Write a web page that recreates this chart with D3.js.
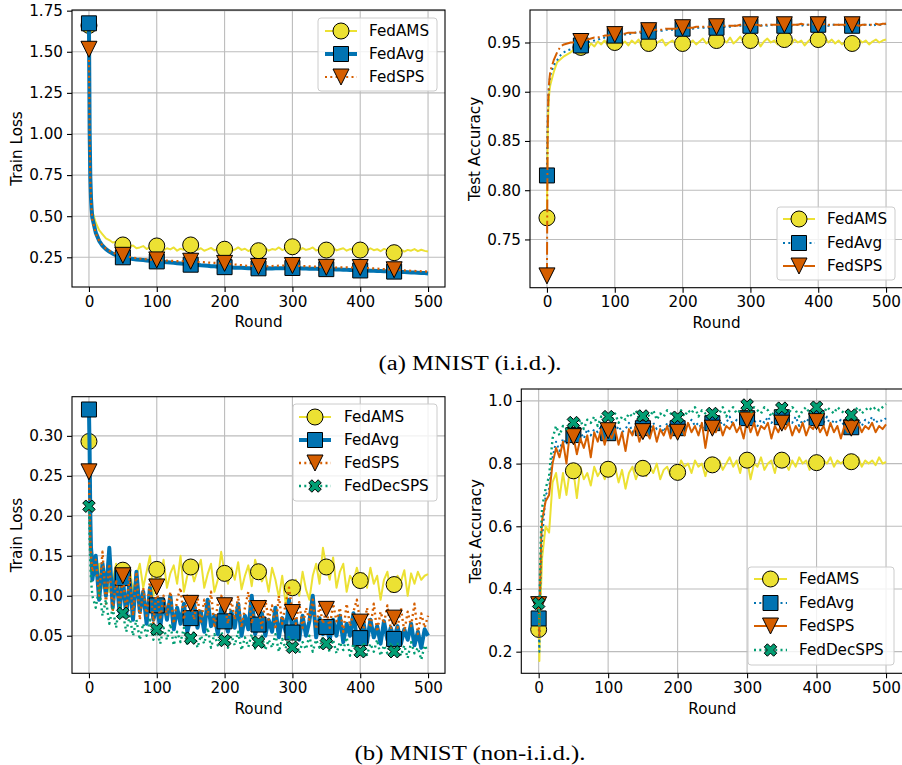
<!DOCTYPE html>
<html>
<head>
<meta charset="utf-8">
<script src="https://cdn.jsdelivr.net/npm/d3@7"></script>
<style>
  body { margin: 0; background: #fff; }
  text { font-family: "DejaVu Sans", sans-serif; }
</style>
</head>
<body>
<svg id="fig" width="902" height="765"></svg>
<script>
var rounds = [0, 1, 2, 3, 4].concat(d3.range(5, 501, 5));
var xTicks = [0, 100, 200, 300, 400, 500];

var colAMS = "#ECE133", colAvg = "#0173B2", colSPS = "#D55E00", colDec = "#029E73";

// (a) MNIST iid - train loss
var lossIidAMS = [1.66, 1.05, 0.78, 0.65, 0.57,
  0.53, 0.46, 0.415, 0.39, 0.365, 0.355, 0.34, 0.345, 0.33, 0.325,
  0.33, 0.315, 0.322, 0.305, 0.31, 0.318, 0.30, 0.312, 0.305, 0.319,
  0.30, 0.292, 0.305, 0.298, 0.31, 0.29, 0.302, 0.296, 0.308, 0.325,
  0.30, 0.295, 0.305, 0.29, 0.298, 0.307, 0.292, 0.30, 0.294, 0.299,
  0.305, 0.29, 0.297, 0.31, 0.295, 0.302, 0.288, 0.30, 0.293, 0.29,
  0.298, 0.306, 0.29, 0.30, 0.296, 0.31, 0.294, 0.303, 0.298, 0.314,
  0.30, 0.292, 0.306, 0.295, 0.30, 0.31, 0.291, 0.298, 0.303, 0.294,
  0.30, 0.308, 0.292, 0.299, 0.305, 0.29, 0.30, 0.296, 0.302, 0.294,
  0.298, 0.29, 0.305, 0.293, 0.299, 0.287, 0.301, 0.294, 0.29, 0.278,
  0.292, 0.298, 0.285, 0.295, 0.29, 0.30, 0.287, 0.296, 0.289, 0.285];
var lossIidAvg = [1.673, 1.02, 0.74, 0.61, 0.54,
  0.49, 0.40, 0.35, 0.32, 0.30, 0.285, 0.272, 0.263, 0.256, 0.25,
  0.247, 0.243, 0.24, 0.237, 0.235, 0.233, 0.231, 0.229, 0.227, 0.225,
  0.223, 0.222, 0.22, 0.218, 0.216, 0.214, 0.212, 0.21, 0.208, 0.205,
  0.205, 0.203, 0.201, 0.2, 0.198, 0.196, 0.195, 0.193, 0.192, 0.19,
  0.189, 0.188, 0.187, 0.186, 0.186, 0.185, 0.184, 0.184, 0.183, 0.183,
  0.183, 0.182, 0.183, 0.182, 0.184, 0.183, 0.184, 0.185, 0.184, 0.185,
  0.184, 0.183, 0.182, 0.182, 0.181, 0.18, 0.18, 0.179, 0.179, 0.178,
  0.177, 0.177, 0.176, 0.175, 0.174, 0.174, 0.173, 0.172, 0.171, 0.17,
  0.17, 0.169, 0.168, 0.168, 0.167, 0.166, 0.165, 0.165, 0.164, 0.163,
  0.162, 0.161, 0.16, 0.159, 0.158, 0.157, 0.156, 0.155, 0.154, 0.152];
var lossIidSPS = [1.515, 0.98, 0.72, 0.60, 0.53,
  0.48, 0.395, 0.35, 0.322, 0.303, 0.29, 0.278, 0.27, 0.264, 0.262,
  0.256, 0.252, 0.248, 0.245, 0.242, 0.24, 0.238, 0.236, 0.234, 0.234,
  0.232, 0.231, 0.23, 0.229, 0.228, 0.227, 0.227, 0.226, 0.226, 0.226,
  0.224, 0.222, 0.221, 0.22, 0.218, 0.217, 0.216, 0.215, 0.214, 0.213,
  0.211, 0.208, 0.206, 0.204, 0.202, 0.2, 0.198, 0.197, 0.195, 0.194,
  0.194, 0.195, 0.196, 0.197, 0.198, 0.199, 0.2, 0.2, 0.201, 0.2,
  0.199, 0.198, 0.197, 0.196, 0.195, 0.194, 0.193, 0.192, 0.19, 0.189,
  0.188, 0.188, 0.188, 0.189, 0.189, 0.189, 0.188, 0.188, 0.188, 0.188,
  0.186, 0.185, 0.183, 0.182, 0.181, 0.179, 0.178, 0.177, 0.175, 0.174,
  0.172, 0.171, 0.17, 0.169, 0.168, 0.167, 0.166, 0.165, 0.164, 0.162];

// (a) MNIST iid - test accuracy
var accIidAMS = [0.772, 0.85, 0.88, 0.895, 0.903,
  0.907, 0.92, 0.93, 0.933, 0.936, 0.938, 0.94, 0.943, 0.946, 0.945,
  0.947, 0.944, 0.949, 0.946, 0.951, 0.948, 0.952, 0.947, 0.95, 0.95,
  0.953, 0.948, 0.951, 0.947, 0.952, 0.949, 0.953, 0.946, 0.951, 0.949,
  0.952, 0.948, 0.951, 0.953, 0.947, 0.95, 0.952, 0.948, 0.951, 0.949,
  0.953, 0.949, 0.952, 0.948, 0.951, 0.954, 0.949, 0.952, 0.95, 0.952,
  0.948, 0.953, 0.95, 0.955, 0.949, 0.952, 0.956, 0.95, 0.953, 0.952,
  0.949, 0.953, 0.946, 0.951, 0.954, 0.95, 0.952, 0.948, 0.953, 0.953,
  0.951, 0.948, 0.953, 0.95, 0.952, 0.947, 0.951, 0.954, 0.95, 0.953,
  0.951, 0.955, 0.95, 0.953, 0.949, 0.952, 0.948, 0.951, 0.953, 0.949,
  0.951, 0.953, 0.95, 0.952, 0.948, 0.951, 0.953, 0.95, 0.952, 0.953];
var accIidAvg = [0.815, 0.87, 0.895, 0.905, 0.912,
  0.917, 0.927, 0.932, 0.937, 0.94, 0.942, 0.943, 0.945, 0.946, 0.947,
  0.949, 0.95, 0.951, 0.952, 0.953, 0.954, 0.955, 0.955, 0.956, 0.957,
  0.957, 0.958, 0.958, 0.959, 0.959, 0.96, 0.96, 0.96, 0.961, 0.961,
  0.961, 0.962, 0.962, 0.962, 0.963, 0.963, 0.963, 0.963, 0.964, 0.964,
  0.964, 0.964, 0.964, 0.965, 0.965, 0.965, 0.965, 0.965, 0.965, 0.965,
  0.966, 0.966, 0.966, 0.966, 0.967, 0.967, 0.967, 0.967, 0.967, 0.967,
  0.967, 0.967, 0.967, 0.968, 0.967, 0.968, 0.967, 0.968, 0.968, 0.967,
  0.968, 0.967, 0.968, 0.968, 0.967, 0.968, 0.968, 0.968, 0.967, 0.968,
  0.968, 0.968, 0.967, 0.968, 0.968, 0.968, 0.967, 0.968, 0.968, 0.967,
  0.968, 0.967, 0.968, 0.968, 0.968, 0.967, 0.968, 0.968, 0.968, 0.969];
var accIidSPS = [0.713, 0.86, 0.895, 0.908, 0.915,
  0.921, 0.932, 0.94, 0.946, 0.948, 0.949, 0.95, 0.95, 0.951, 0.951,
  0.952, 0.953, 0.954, 0.955, 0.955, 0.956, 0.957, 0.957, 0.958, 0.958,
  0.958, 0.959, 0.959, 0.96, 0.96, 0.96, 0.961, 0.961, 0.962, 0.962,
  0.962, 0.963, 0.963, 0.963, 0.964, 0.964, 0.964, 0.964, 0.965, 0.965,
  0.965, 0.965, 0.965, 0.966, 0.966, 0.966, 0.966, 0.966, 0.966, 0.966,
  0.966, 0.967, 0.967, 0.967, 0.967, 0.967, 0.968, 0.968, 0.968, 0.968,
  0.968, 0.968, 0.967, 0.968, 0.968, 0.968, 0.968, 0.968, 0.968, 0.968,
  0.968, 0.968, 0.968, 0.968, 0.969, 0.968, 0.968, 0.968, 0.969, 0.968,
  0.968, 0.969, 0.968, 0.968, 0.968, 0.968, 0.968, 0.968, 0.967, 0.968,
  0.968, 0.967, 0.968, 0.968, 0.968, 0.968, 0.969, 0.968, 0.969, 0.969];

// (b) MNIST non-iid - train loss
var lossNonAMS = [0.293, 0.24, 0.2, 0.17, 0.16,
  0.15, 0.125, 0.14, 0.11, 0.13, 0.105, 0.12, 0.14, 0.11, 0.132,
  0.12, 0.135, 0.105, 0.125, 0.14, 0.11, 0.13, 0.15, 0.1, 0.133,
  0.12, 0.145, 0.11, 0.128, 0.138, 0.115, 0.15, 0.105, 0.125, 0.136,
  0.118, 0.132, 0.145, 0.11, 0.127, 0.14, 0.105, 0.12, 0.155, 0.128,
  0.115, 0.135, 0.12, 0.142, 0.108, 0.125, 0.138, 0.112, 0.145, 0.13,
  0.118, 0.128, 0.105, 0.135, 0.12, 0.098, 0.125, 0.09, 0.115, 0.11,
  0.12, 0.1, 0.13, 0.108, 0.095, 0.125, 0.14, 0.115, 0.16, 0.136,
  0.12, 0.148, 0.11, 0.13, 0.14, 0.105, 0.125, 0.118, 0.135, 0.119,
  0.128, 0.11, 0.135, 0.115, 0.125, 0.095, 0.12, 0.13, 0.105, 0.114,
  0.125, 0.118, 0.132, 0.1, 0.128, 0.115, 0.13, 0.12, 0.125, 0.127];
var lossNonAvg = [0.333, 0.28, 0.2, 0.16, 0.15,
  0.12, 0.15, 0.095, 0.14, 0.1, 0.16, 0.085, 0.13, 0.08, 0.122,
  0.075, 0.12, 0.07, 0.13, 0.08, 0.105, 0.065, 0.11, 0.07, 0.088,
  0.06, 0.095, 0.07, 0.1, 0.058, 0.085, 0.065, 0.09, 0.055, 0.072,
  0.09, 0.06, 0.08, 0.055, 0.095, 0.062, 0.075, 0.052, 0.085, 0.068,
  0.055, 0.08, 0.06, 0.09, 0.05, 0.075, 0.058, 0.1, 0.052, 0.064,
  0.078, 0.05, 0.07, 0.055, 0.085, 0.048, 0.072, 0.055, 0.095, 0.054,
  0.07, 0.045, 0.075, 0.05, 0.068, 0.1, 0.048, 0.072, 0.052, 0.061,
  0.045, 0.07, 0.05, 0.075, 0.042, 0.065, 0.05, 0.078, 0.045, 0.047,
  0.065, 0.042, 0.07, 0.048, 0.062, 0.04, 0.068, 0.045, 0.06, 0.046,
  0.062, 0.04, 0.058, 0.045, 0.065, 0.038, 0.055, 0.035, 0.058, 0.05];
var lossNonSPS = [0.255, 0.21, 0.17, 0.15, 0.14,
  0.13, 0.145, 0.1, 0.155, 0.09, 0.14, 0.08, 0.12, 0.085, 0.125,
  0.08, 0.125, 0.075, 0.13, 0.07, 0.11, 0.075, 0.12, 0.065, 0.111,
  0.07, 0.1, 0.075, 0.105, 0.065, 0.095, 0.11, 0.07, 0.1, 0.0905,
  0.07, 0.1, 0.065, 0.095, 0.075, 0.105, 0.06, 0.09, 0.1, 0.0875,
  0.065, 0.095, 0.07, 0.1, 0.06, 0.085, 0.105, 0.065, 0.09, 0.084,
  0.06, 0.095, 0.07, 0.088, 0.058, 0.1, 0.065, 0.09, 0.11, 0.079,
  0.065, 0.092, 0.06, 0.085, 0.07, 0.095, 0.058, 0.088, 0.065, 0.083,
  0.06, 0.09, 0.068, 0.085, 0.055, 0.09, 0.062, 0.08, 0.095, 0.067,
  0.058, 0.085, 0.06, 0.09, 0.055, 0.08, 0.065, 0.088, 0.058, 0.072,
  0.06, 0.085, 0.055, 0.08, 0.062, 0.09, 0.052, 0.078, 0.06, 0.075];
var lossNonDec = [0.212, 0.17, 0.14, 0.12, 0.11,
  0.1, 0.085, 0.11, 0.075, 0.095, 0.065, 0.085, 0.06, 0.09, 0.078,
  0.055, 0.075, 0.05, 0.07, 0.045, 0.065, 0.05, 0.07, 0.045, 0.058,
  0.04, 0.06, 0.045, 0.065, 0.038, 0.055, 0.042, 0.06, 0.038, 0.047,
  0.055, 0.035, 0.05, 0.04, 0.06, 0.035, 0.052, 0.038, 0.055, 0.044,
  0.035, 0.05, 0.038, 0.055, 0.032, 0.048, 0.036, 0.052, 0.034, 0.042,
  0.05, 0.032, 0.045, 0.035, 0.052, 0.03, 0.046, 0.034, 0.05, 0.0355,
  0.045, 0.028, 0.042, 0.033, 0.05, 0.03, 0.045, 0.035, 0.048, 0.04,
  0.03, 0.045, 0.028, 0.042, 0.032, 0.048, 0.025, 0.04, 0.03, 0.03,
  0.042, 0.026, 0.04, 0.03, 0.045, 0.025, 0.038, 0.028, 0.042, 0.03,
  0.04, 0.025, 0.038, 0.022, 0.042, 0.028, 0.035, 0.02, 0.038, 0.03];

// (b) MNIST non-iid - test accuracy
var accNonAMS = [0.271, 0.17, 0.3, 0.38, 0.44,
  0.5, 0.6, 0.58, 0.74, 0.77, 0.69, 0.77, 0.7, 0.78, 0.777,
  0.69, 0.79, 0.75, 0.77, 0.73, 0.79, 0.76, 0.78, 0.75, 0.782,
  0.76, 0.79, 0.74, 0.78, 0.72, 0.77, 0.79, 0.75, 0.78, 0.785,
  0.76, 0.79, 0.77, 0.8, 0.75, 0.78, 0.79, 0.76, 0.79, 0.772,
  0.81, 0.79, 0.8, 0.77, 0.81, 0.79, 0.8, 0.76, 0.8, 0.796,
  0.79, 0.81, 0.78, 0.8, 0.82, 0.79, 0.81, 0.77, 0.82, 0.811,
  0.75, 0.8, 0.79, 0.82, 0.78, 0.8, 0.81, 0.77, 0.82, 0.811,
  0.8, 0.78, 0.81, 0.79, 0.82, 0.8, 0.81, 0.78, 0.81, 0.803,
  0.79, 0.81, 0.8, 0.82, 0.79, 0.81, 0.8, 0.81, 0.79, 0.806,
  0.8, 0.82, 0.79, 0.81, 0.8, 0.81, 0.795, 0.82, 0.8, 0.805];
var accNonAvg = [0.306, 0.2, 0.36, 0.45, 0.52,
  0.56, 0.7, 0.72, 0.82, 0.87, 0.84, 0.88, 0.86, 0.9, 0.891,
  0.87, 0.9, 0.88, 0.91, 0.89, 0.91, 0.9, 0.92, 0.89, 0.897,
  0.91, 0.9, 0.92, 0.9, 0.91, 0.93, 0.9, 0.92, 0.91, 0.913,
  0.92, 0.91, 0.93, 0.91, 0.92, 0.9, 0.93, 0.91, 0.92, 0.913,
  0.93, 0.91, 0.92, 0.94, 0.92, 0.93, 0.91, 0.93, 0.92, 0.929,
  0.93, 0.94, 0.92, 0.93, 0.95, 0.92, 0.94, 0.93, 0.94, 0.945,
  0.93, 0.94, 0.92, 0.94, 0.93, 0.95, 0.93, 0.94, 0.93, 0.948,
  0.93, 0.94, 0.93, 0.95, 0.92, 0.94, 0.93, 0.95, 0.93, 0.945,
  0.94, 0.93, 0.95, 0.92, 0.94, 0.93, 0.94, 0.92, 0.94, 0.916,
  0.93, 0.94, 0.92, 0.94, 0.93, 0.95, 0.93, 0.94, 0.935, 0.945];
var accNonSPS = [0.35, 0.25, 0.4, 0.5, 0.58,
  0.62, 0.68, 0.7, 0.8, 0.85, 0.82, 0.87, 0.8, 0.9, 0.886,
  0.83, 0.88, 0.85, 0.89, 0.82, 0.9, 0.87, 0.91, 0.86, 0.905,
  0.88, 0.91, 0.86, 0.9, 0.84, 0.91, 0.89, 0.92, 0.87, 0.902,
  0.9, 0.88, 0.92, 0.87, 0.91, 0.89, 0.92, 0.88, 0.91, 0.9,
  0.92, 0.89, 0.93, 0.9, 0.92, 0.89, 0.93, 0.85, 0.92, 0.913,
  0.9, 0.93, 0.89, 0.92, 0.91, 0.93, 0.9, 0.92, 0.88, 0.939,
  0.9, 0.93, 0.89, 0.92, 0.91, 0.93, 0.88, 0.92, 0.9, 0.929,
  0.91, 0.93, 0.89, 0.92, 0.9, 0.93, 0.89, 0.92, 0.91, 0.934,
  0.9, 0.92, 0.89, 0.93, 0.9, 0.92, 0.88, 0.92, 0.9, 0.913,
  0.91, 0.93, 0.9, 0.92, 0.91, 0.93, 0.9, 0.92, 0.91, 0.925];
var accNonDec = [0.354, 0.28, 0.45, 0.55, 0.62,
  0.66, 0.72, 0.76, 0.88, 0.92, 0.89, 0.92, 0.91, 0.93, 0.931,
  0.92, 0.94, 0.91, 0.94, 0.93, 0.95, 0.92, 0.95, 0.93, 0.95,
  0.94, 0.96, 0.93, 0.95, 0.94, 0.96, 0.95, 0.97, 0.94, 0.952,
  0.96, 0.95, 0.97, 0.94, 0.96, 0.95, 0.97, 0.96, 0.95, 0.948,
  0.97, 0.95, 0.97, 0.96, 0.98, 0.95, 0.97, 0.96, 0.97, 0.96,
  0.97, 0.96, 0.98, 0.95, 0.97, 0.98, 0.96, 0.97, 0.98, 0.987,
  0.96, 0.98, 0.97, 0.96, 0.98, 0.97, 0.95, 0.97, 0.96, 0.977,
  0.97, 0.96, 0.98, 0.97, 0.95, 0.97, 0.98, 0.96, 0.97, 0.98,
  0.97, 0.96, 0.98, 0.97, 0.96, 0.98, 0.97, 0.96, 0.97, 0.955,
  0.97, 0.98, 0.96, 0.97, 0.98, 0.97, 0.98, 0.97, 0.98, 0.99];

var lossIidTicks = [0.25, 0.50, 0.75, 1.00, 1.25, 1.50, 1.75];
var accIidTicks = [0.75, 0.80, 0.85, 0.90, 0.95];
var lossNonTicks = [0.05, 0.10, 0.15, 0.20, 0.25, 0.30];
var accNonTicks = [0.2, 0.4, 0.6, 0.8, 1.0];

var dotted = "2,3.3", dashdot = "12.8,3.2,2,3.2";
var fs = "15.2px";

var panels = [
  { left: 72, right: 445, top: 10, bottom: 287, yDomain: [0.0693, 1.754],
    yTicks: lossIidTicks, fmt: ".2f", ylabel: "Train Loss", ylabelX: 17,
    legend: { x: 318, y: 18, w: 119, h: 73, rows: [31, 54, 77], h0: 325, h1: 357, tx: 369 },
    series: [
      { name: "FedAMS", values: lossIidAMS, color: colAMS, width: 2, dash: null, marker: "o" },
      { name: "FedAvg", values: lossIidAvg, color: colAvg, width: 4, dash: null, marker: "s" },
      { name: "FedSPS", values: lossIidSPS, color: colSPS, width: 2.2, dash: dotted, marker: "v" }
    ] },
  { left: 530, right: 903, top: 10, bottom: 287.7, yDomain: [0.701, 0.983],
    yTicks: accIidTicks, fmt: ".2f", ylabel: "Test Accuracy", ylabelX: 475,
    legend: { x: 777, y: 207, w: 118, h: 73, rows: [219, 243, 266], h0: 783, h1: 815, tx: 827 },
    series: [
      { name: "FedAMS", values: accIidAMS, color: colAMS, width: 2, dash: null, marker: "o" },
      { name: "FedAvg", values: accIidAvg, color: colAvg, width: 2, dash: dotted, marker: "s" },
      { name: "FedSPS", values: accIidSPS, color: colSPS, width: 2, dash: dashdot, marker: "v" }
    ] },
  { left: 72, right: 445, top: 396.7, bottom: 673.3, yDomain: [0.003, 0.349],
    yTicks: lossNonTicks, fmt: ".2f", ylabel: "Train Loss", ylabelX: 17,
    legend: { x: 293, y: 404, w: 144, h: 97, rows: [417, 440, 463, 486], h0: 299, h1: 331, tx: 344 },
    series: [
      { name: "FedAMS", values: lossNonAMS, color: colAMS, width: 2, dash: null, marker: "o" },
      { name: "FedAvg", values: lossNonAvg, color: colAvg, width: 4, dash: null, marker: "s" },
      { name: "FedSPS", values: lossNonSPS, color: colSPS, width: 2.4, dash: dotted, marker: "v" },
      { name: "FedDecSPS", values: lossNonDec, color: colDec, width: 2.4, dash: dotted, marker: "X" }
    ] },
  { left: 521.3, right: 903.4, top: 389, bottom: 673.3, yDomain: [0.131, 1.038],
    yTicks: accNonTicks, fmt: ".1f", ylabel: "Test Accuracy", ylabelX: 476,
    legend: { x: 748, y: 567, w: 146, h: 98, rows: [579, 603, 626, 650], h0: 754, h1: 787, tx: 799 },
    series: [
      { name: "FedAMS", values: accNonAMS, color: colAMS, width: 2, dash: null, marker: "o" },
      { name: "FedAvg", values: accNonAvg, color: colAvg, width: 2, dash: dotted, marker: "s" },
      { name: "FedSPS", values: accNonSPS, color: colSPS, width: 2, dash: null, marker: "v" },
      { name: "FedDecSPS", values: accNonDec, color: colDec, width: 2.4, dash: dotted, marker: "X" }
    ] }
];

function markerPath(m) {
  if (m === "o") return "M8,0A8,8,0,1,1,-8,0A8,8,0,1,1,8,0Z";
  if (m === "s") return "M-7.5,-7.5H7.5V7.5H-7.5Z";
  if (m === "v") return "M-8,-8L8,-8L0,8Z";
  var s = 12.5, pts = [[-0.25,-0.5],[0,-0.25],[0.25,-0.5],[0.5,-0.25],[0.25,0],[0.5,0.25],
    [0.25,0.5],[0,0.25],[-0.25,0.5],[-0.5,0.25],[-0.25,0],[-0.5,-0.25]];
  return "M" + pts.map(function(p) { return (p[0] * s) + "," + (p[1] * s); }).join("L") + "Z";
}

var svg = d3.select("#fig");
svg.append("rect").attr("width", 902).attr("height", 765).attr("fill", "#fff");

panels.forEach(function(p, pi) {
  var x = d3.scaleLinear().domain([-25, 525]).range([p.left, p.right]);
  var y = d3.scaleLinear().domain(p.yDomain).range([p.bottom, p.top]);
  var g = svg.append("g");

  // grid
  g.selectAll(".gx").data(xTicks).enter().append("line")
    .attr("x1", function(d) { return x(d); }).attr("x2", function(d) { return x(d); })
    .attr("y1", p.top).attr("y2", p.bottom)
    .attr("stroke", "#bcbcbc").attr("stroke-width", 1.1);
  g.selectAll(".gy").data(p.yTicks).enter().append("line")
    .attr("y1", function(d) { return y(d); }).attr("y2", function(d) { return y(d); })
    .attr("x1", p.left).attr("x2", p.right)
    .attr("stroke", "#bcbcbc").attr("stroke-width", 1.1);

  var clipId = "clip" + pi;
  svg.append("clipPath").attr("id", clipId).append("rect")
    .attr("x", p.left).attr("y", p.top)
    .attr("width", p.right - p.left).attr("height", p.bottom - p.top);
  var plot = g.append("g").attr("clip-path", "url(#" + clipId + ")");

  var line = d3.line()
    .x(function(d, i) { return x(rounds[i]); })
    .y(function(d) { return y(d); });

  p.series.forEach(function(s) {
    plot.append("path").datum(s.values)
      .attr("d", line)
      .attr("fill", "none")
      .attr("stroke", s.color)
      .attr("stroke-width", s.width)
      .attr("stroke-dasharray", s.dash)
      .attr("stroke-linejoin", "round");

    var marks = rounds.map(function(r, i) { return { r: r, v: s.values[i] }; })
      .filter(function(d) { return d.r % 50 === 0 && d.r < 500; });
    plot.selectAll(null).data(marks).enter().append("path")
      .attr("transform", function(d) { return "translate(" + x(d.r) + "," + y(d.v) + ")"; })
      .attr("d", markerPath(s.marker))
      .attr("fill", s.color)
      .attr("stroke", "#000")
      .attr("stroke-width", 1);
  });

  // spines
  g.append("rect")
    .attr("x", p.left).attr("y", p.top)
    .attr("width", p.right - p.left).attr("height", p.bottom - p.top)
    .attr("fill", "none").attr("stroke", "#000").attr("stroke-width", 1.1);

  var ax = g.append("g").attr("transform", "translate(0," + p.bottom + ")")
    .call(d3.axisBottom(x).tickValues(xTicks).tickSize(5).tickPadding(4).tickFormat(d3.format("d")));
  var ay = g.append("g").attr("transform", "translate(" + p.left + ",0)")
    .call(d3.axisLeft(y).tickValues(p.yTicks).tickSize(5).tickPadding(4).tickFormat(d3.format(p.fmt)));
  [ax, ay].forEach(function(a) {
    a.select(".domain").remove();
    a.selectAll(".tick line").attr("stroke", "#000").attr("stroke-width", 1.1);
    a.selectAll(".tick text").attr("fill", "#000")
      .style("font-family", "'DejaVu Sans', sans-serif").style("font-size", fs);
  });

  g.append("text")
    .attr("x", (p.left + p.right) / 2).attr("y", p.bottom + 35).attr("dy", "0.35em")
    .attr("text-anchor", "middle").style("font-size", fs)
    .text("Round");
  g.append("text")
    .attr("transform", "translate(" + p.ylabelX + "," + ((p.top + p.bottom) / 2) + ") rotate(-90)")
    .attr("dy", "0.35em").attr("text-anchor", "middle").style("font-size", fs)
    .text(p.ylabel);

  // legend
  var L = p.legend;
  var lg = g.append("g");
  lg.append("rect")
    .attr("x", L.x).attr("y", L.y).attr("width", L.w).attr("height", L.h)
    .attr("rx", 3).attr("fill", "#fff").attr("fill-opacity", 0.8)
    .attr("stroke", "#cccccc").attr("stroke-width", 1);
  p.series.forEach(function(s, i) {
    var yy = L.rows[i];
    lg.append("line")
      .attr("x1", L.h0).attr("x2", L.h1).attr("y1", yy).attr("y2", yy)
      .attr("stroke", s.color).attr("stroke-width", s.width)
      .attr("stroke-dasharray", s.dash);
    lg.append("path")
      .attr("transform", "translate(" + ((L.h0 + L.h1) / 2) + "," + yy + ")")
      .attr("d", markerPath(s.marker))
      .attr("fill", s.color).attr("stroke", "#000").attr("stroke-width", 1);
    lg.append("text")
      .attr("x", L.tx).attr("y", yy).attr("dy", "0.35em")
      .style("font-size", fs)
      .text(s.name);
  });
});

// sub-captions
svg.append("text").attr("x", 470).attr("y", 363).attr("dy", "0.35em")
  .attr("text-anchor", "middle")
  .attr("textLength", 183).attr("lengthAdjust", "spacingAndGlyphs")
  .style("font-family", "'Liberation Serif', serif").style("font-size", "20px")
  .text("(a) MNIST (i.i.d.).");
svg.append("text").attr("x", 470).attr("y", 753).attr("dy", "0.35em")
  .attr("text-anchor", "middle")
  .attr("textLength", 231).attr("lengthAdjust", "spacingAndGlyphs")
  .style("font-family", "'Liberation Serif', serif").style("font-size", "20px")
  .text("(b) MNIST (non-i.i.d.).");
</script>
</body>
</html>
